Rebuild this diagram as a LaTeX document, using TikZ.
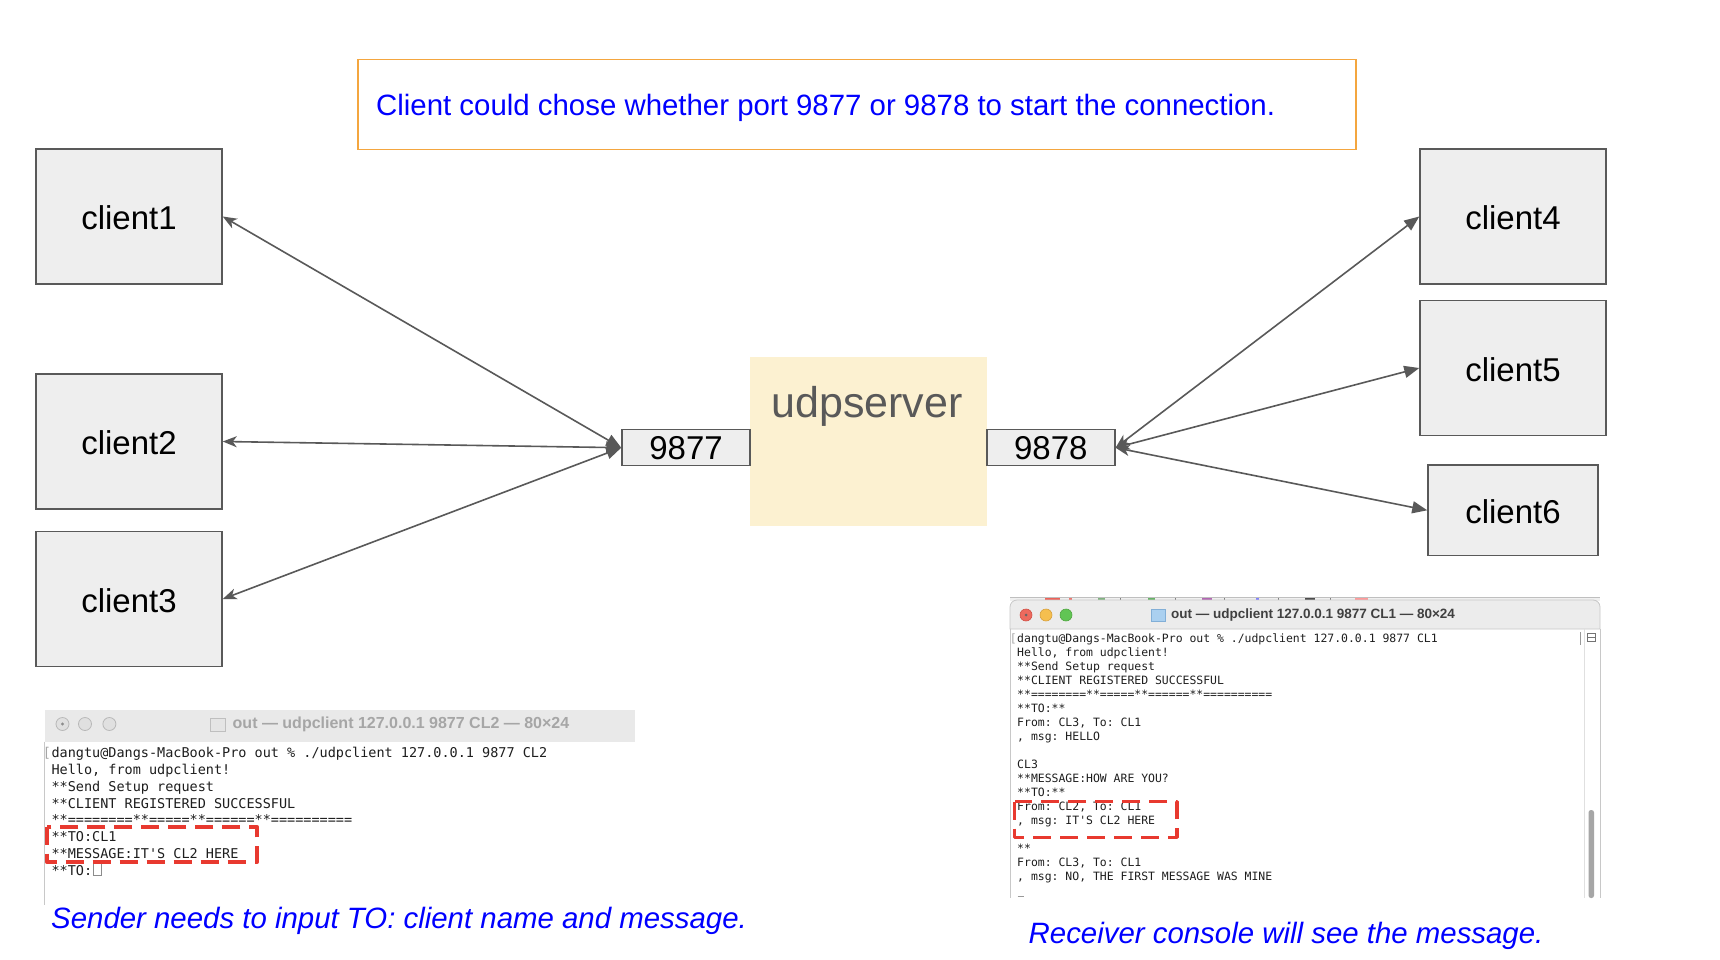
\documentclass[tikz,border=0pt]{standalone}
\usepackage{fontspec}
\setmainfont{Liberation Sans}
\setmonofont{DejaVu Sans Mono}
\usetikzlibrary{arrows.meta}
\definecolor{boxfill}{HTML}{EEEEEE}
\definecolor{boxline}{HTML}{595959}
\definecolor{arrowc}{HTML}{595959}
\definecolor{orangec}{HTML}{F4A63F}
\definecolor{servfill}{HTML}{FCF1D1}
\definecolor{servtext}{HTML}{595959}
\definecolor{bluec}{HTML}{0000FF}
\definecolor{redd}{HTML}{E8392F}
\definecolor{tbarA}{HTML}{E9E9E9}
\definecolor{tbarB}{HTML}{ECECEC}
\definecolor{tline}{HTML}{C8C8C8}
\definecolor{termtext}{HTML}{1E1E1E}
\definecolor{tlred}{HTML}{ED6A5E}
\definecolor{tlredd}{HTML}{D05046}
\definecolor{tlyel}{HTML}{F5BF4F}
\definecolor{tlyeld}{HTML}{D7A03C}
\definecolor{tlgrn}{HTML}{61C554}
\definecolor{tlgrnd}{HTML}{50A541}
\definecolor{folderb}{HTML}{AAD0F0}
\definecolor{folderbd}{HTML}{82AFD7}
\begin{document}
\begin{tikzpicture}[x=1pt,y=-1pt,
  clientbox/.style={draw=boxline, fill=boxfill, line width=1.5pt, minimum width=186pt, minimum height=135pt, inner sep=0pt, text height=26.5pt, text depth=0pt, font=\fontsize{33}{40}\selectfont},
  portbox/.style={draw=boxline, fill=boxfill, line width=1.5pt, minimum width=128pt, minimum height=36pt, inner sep=0pt, text height=24.5pt, text depth=0pt, font=\fontsize{33}{40}\selectfont},
  link/.style={draw=arrowc, line width=1.6pt},
  caption/.style={inner sep=0pt, anchor=base west, text=bluec, font=\fontsize{29.4}{34}\selectfont\itshape},
  termA/.style={inner sep=0pt, anchor=base west, text=termtext, font=\fontsize{13.5}{16}\ttfamily},
  termB/.style={inner sep=0pt, anchor=base west, text=termtext, font=\fontsize{11.45}{14}\ttfamily},
  reddash/.style={draw=redd, dash pattern=on 18pt off 9pt, line join=round},
]
\useasboundingbox (0,0) rectangle (1720,960);
\fill[white] (0,0) rectangle (1720,960);

% note box
\node[draw=orangec, line width=1.5pt, fill=white, minimum width=998pt, minimum height=90pt, inner sep=0pt] (note) at (856.8,104.7) {};
\node[inner sep=0pt, anchor=base west, text=bluec, font=\fontsize{29.4}{34}\selectfont] (notetext) at (376,116) {Client could chose whether port 9877 or 9878 to start the connection.};

% server
\node[fill=servfill, minimum width=236.7pt, minimum height=169pt, inner sep=0pt] (server) at (868.3,441.5) {};
\node[inner sep=0pt, anchor=base, text=servtext, font=\fontsize{43}{50}\selectfont] (servername) at (867,417) {udpserver};
\node[portbox] (p9877) at (686,447.7) {9877};
\node[portbox] (p9878) at (1050.8,447.7) {9878};

% clients
\node[clientbox] (client1) at (129,216.5) {client1};
\node[clientbox] (client2) at (129,441.5) {client2};
\node[clientbox] (client3) at (129,599) {client3};
\node[clientbox] (client4) at (1513,216.5) {client4};
\node[clientbox] (client5) at (1513,368) {client5};
\node[clientbox, minimum width=170pt, minimum height=90.7pt] (client6) at (1513,510.3) {client6};

% connectors
\foreach \c in {client1,client2,client3}
  \draw[link, {Stealth[length=14pt,width=11pt,inset=4pt]}-{Triangle[length=15pt,width=12pt]}] (\c.east) -- (p9877.west);
\foreach \c in {client4,client5,client6}
  \draw[link, {Stealth[length=14pt,width=11pt,inset=4pt]}-{Triangle[length=15pt,width=12pt]}] (p9878.east) -- (\c.west);

% ---------- left terminal ----------
\fill[tbarA] (44.6,710) rectangle (635,741.7);
\draw[tline, line width=1pt] (44.6,741.7) -- (44.6,905);
\foreach \cx in {62.5,85,109.4}
  \filldraw[fill=black!12, draw=black!28, line width=0.8pt] (\cx,724) circle (6.5);
\fill[black!45] (62.5,724) circle (1.6);
\filldraw[fill=black!10, draw=black!25, line width=0.6pt] (210,718.5) rectangle (225,731);
\node[inner sep=0pt, text=black!35, font=\fontsize{16}{18}\selectfont\bfseries] (t1title) at (401,724) {out — udpclient 127.0.0.1 9877 CL2 — 80×24};
\node[termA, anchor=base east, text=black!35] (ta0) at (51.3,757.3) {[};
\foreach \txt [count=\i] in {
  {dangtu@Dangs-MacBook-Pro out \% ./udpclient 127.0.0.1 9877 CL2},
  {Hello, from udpclient!},
  {**Send Setup request},
  {**CLIENT REGISTERED SUCCESSFUL},
  {**========**=====**======**==========},
  {**TO:CL1},
  {**MESSAGE:IT\textquotesingle S CL2 HERE},
  {**TO:}}
  \node[termA] (ta\i) at (51.3,{757.3+16.9*(\i-1)}) {\txt};
\draw[black!45, line width=1.2pt] (93.5,860.5) rectangle (101.5,875.5);
\draw[reddash, line width=4pt] (47.3,826.7) rectangle (256.7,862.3);
\node[caption] (leftcap) at (51,928) {Sender needs to input TO: client name and message.};

% ---------- right terminal ----------
\fill[black!6] (1010,597.5) rectangle (1600,601);
\draw[black!25, line width=0.6pt] (1010,597.5) -- (1600,597.5);
\fill[redd!80] (1045,598) rectangle (1060,601);
\fill[redd!70] (1069,598) rectangle (1072,601);
\fill[green!40!black!50] (1098,598) rectangle (1105,601);
\fill[green!50!black!60] (1148,598) rectangle (1155,601);
\fill[violet!60] (1202,598) rectangle (1212,601);
\fill[blue!50] (1256,598) rectangle (1259,601);
\fill[black!70] (1305,598) rectangle (1315,601);
\fill[red!40] (1355,598) rectangle (1368,601);
\foreach \mx in {1120,1175,1224,1278,1330}
  \fill[black!50] (\mx,598) rectangle (\mx+1,601);
\filldraw[fill=tbarB, draw=tline, line width=0.8pt] (1010,629) [rounded corners=7pt] -- (1010,600) -- (1600,600) [sharp corners] -- (1600,629) -- cycle;
\draw[tline, line width=0.8pt] (1010,629) -- (1010,898);
\draw[tline, line width=0.8pt] (1600,629) -- (1600,898);
\draw[black!12, line width=0.8pt] (1584,629) -- (1584,898);
\fill[black!35, rounded corners=2.5pt] (1588.5,810) rectangle (1594,898);
\draw[black!55, line width=0.8pt] (1587,633) rectangle (1595,641);
\draw[black!55, line width=0.8pt] (1587,637) -- (1595,637);
\draw[black!40, line width=0.8pt] (1580,632) -- (1580,645);
\filldraw[fill=tlred, draw=tlredd, line width=0.6pt] (1026,615) circle (6);
\fill[black!60] (1026,615) circle (1.5);
\filldraw[fill=tlyel, draw=tlyeld, line width=0.6pt] (1046,615) circle (6);
\filldraw[fill=tlgrn, draw=tlgrnd, line width=0.6pt] (1066,615) circle (6);
\filldraw[fill=folderb, draw=folderbd, line width=0.5pt] (1151,609) rectangle (1165,621.5);
\node[inner sep=0pt, text=black!75, font=\fontsize{13.5}{16}\selectfont\bfseries] (t2title) at (1313,615) {out — udpclient 127.0.0.1 9877 CL1 — 80×24};
\node[termB, anchor=base east, text=black!35] (tb0) at (1017,642.7) {[};
\foreach \txt [count=\i] in {
  {dangtu@Dangs-MacBook-Pro out \% ./udpclient 127.0.0.1 9877 CL1},
  {Hello, from udpclient!},
  {**Send Setup request},
  {**CLIENT REGISTERED SUCCESSFUL},
  {**========**=====**======**==========},
  {**TO:**},
  {From: CL3, To: CL1},
  {, msg: HELLO},
  {},
  {CL3},
  {**MESSAGE:HOW ARE YOU?},
  {**TO:**},
  {From: CL2, To: CL1},
  {, msg: IT\textquotesingle S CL2 HERE},
  {},
  {**},
  {From: CL3, To: CL1},
  {, msg: NO, THE FIRST MESSAGE WAS MINE}}
  \node[termB] (tb\i) at (1017,{642.7+14*(\i-1)}) {\txt};
\draw[black!40, line width=0.8pt] (1017.5,896.5) -- (1023.5,896.5);
\draw[reddash, line width=3.5pt] (1014.7,801.7) rectangle (1176.8,837.3);
\node[caption] (rightcap) at (1028.5,943) {Receiver console will see the message.};
\end{tikzpicture}
\end{document}
